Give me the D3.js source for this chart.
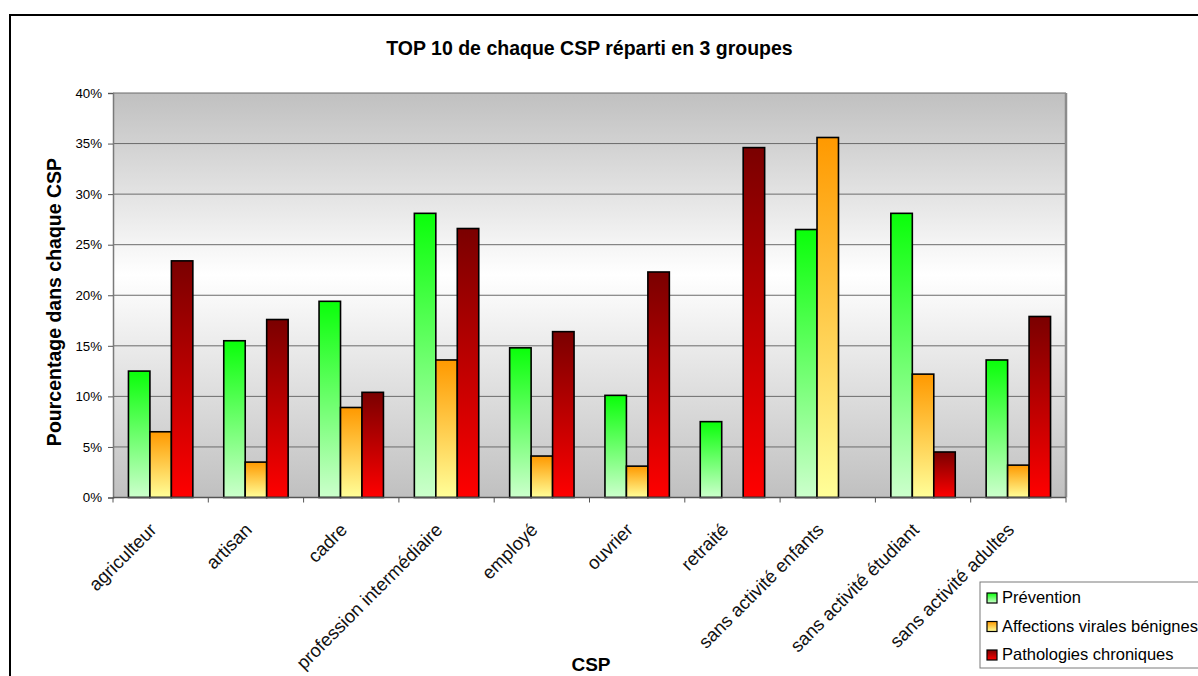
<!DOCTYPE html>
<html>
<head>
<meta charset="utf-8">
<script src="https://cdn.jsdelivr.net/npm/d3@7"></script>
<style>
  html, body { margin: 0; padding: 0; background: #ffffff; }
  svg { display: block; font-family: "Liberation Sans", Arial, sans-serif; }
</style>
</head>
<body>
<svg id="chart" width="1198" height="676"></svg>
<script>
// Catégories socio-professionnelles
const categories = [
  "agriculteur", "artisan", "cadre", "profession intermédiaire", "employé",
  "ouvrier", "retraité", "sans activité enfants", "sans activité étudiant",
  "sans activité adultes"
];

// Séries (en %)
const seriesNames = ["Prévention", "Affections virales bénignes", "Pathologies chroniques"];
const prevention  = [12.5, 15.5, 19.4, 28.1, 14.8, 10.1, 7.5, 26.5, 28.1, 13.6];
const affections  = [6.5, 3.5, 8.9, 13.6, 4.1, 3.1, 0, 35.6, 12.2, 3.2];
const pathologies = [23.4, 17.6, 10.4, 26.6, 16.4, 22.3, 34.6, 0, 4.5, 17.9];

const yTicks = [0, 5, 10, 15, 20, 25, 30, 35, 40];

const seriesValues = [prevention, affections, pathologies];
const gradIds = ["g-prev", "g-aff", "g-path"];
const gradStops = [
  ["#0aff0a", "#ccffcc"],
  ["#ff9900", "#ffff99"],
  ["#7a0000", "#ff0000"]
];

const svg = d3.select("#chart");
const defs = svg.append("defs");

// Dégradés verticaux des barres
gradIds.forEach((id, i) => {
  const g = defs.append("linearGradient").attr("id", id)
    .attr("x1", 0).attr("y1", 0).attr("x2", 0).attr("y2", 1);
  g.append("stop").attr("offset", "0%").attr("stop-color", gradStops[i][0]);
  g.append("stop").attr("offset", "100%").attr("stop-color", gradStops[i][1]);
});

// Fond de la zone de tracé
const bg = defs.append("linearGradient").attr("id", "g-bg")
  .attr("x1", 0).attr("y1", 0).attr("x2", 0).attr("y2", 1);
bg.append("stop").attr("offset", "0%").attr("stop-color", "#c0c0c0");
bg.append("stop").attr("offset", "45%").attr("stop-color", "#ffffff");
bg.append("stop").attr("offset", "100%").attr("stop-color", "#c0c0c0");

// Cadre extérieur
svg.append("rect")
  .attr("x", 10).attr("y", 15).attr("width", 1220).attr("height", 700)
  .attr("fill", "none").attr("stroke", "#000").attr("stroke-width", 2);

const plot = { left: 113, right: 1066, top: 93, bottom: 497.5 };

const x0 = d3.scaleBand().domain(categories)
  .range([plot.left, plot.right]).paddingInner(0).paddingOuter(0);
const x1 = d3.scaleBand().domain(d3.range(seriesNames.length))
  .range([0, x0.bandwidth()]).paddingInner(0).paddingOuter(0.72);
const y = d3.scaleLinear().domain([0, 40]).range([plot.bottom, plot.top]);

// Zone de tracé
svg.append("rect")
  .attr("x", plot.left).attr("y", plot.top)
  .attr("width", plot.right - plot.left).attr("height", plot.bottom - plot.top)
  .attr("fill", "url(#g-bg)");

// Quadrillage horizontal
svg.append("g").selectAll("line").data(yTicks.filter(t => t > 0)).join("line")
  .attr("x1", plot.left).attr("x2", plot.right)
  .attr("y1", d => y(d)).attr("y2", d => y(d))
  .attr("stroke", "#6b6b6b").attr("stroke-width", 1);

// Bordure droite de la zone de tracé
svg.append("line")
  .attr("x1", plot.right).attr("x2", plot.right)
  .attr("y1", plot.top).attr("y2", plot.bottom)
  .attr("stroke", "#8c8c8c").attr("stroke-width", 2.5);

// Barres
const groups = svg.append("g").selectAll("g").data(categories).join("g")
  .attr("transform", d => `translate(${x0(d)},0)`);

groups.selectAll("rect")
  .data((d, ci) => seriesValues.map((vals, si) => ({ si, v: vals[ci] })).filter(e => e.v > 0))
  .join("rect")
  .attr("x", d => x1(d.si))
  .attr("width", x1.bandwidth())
  .attr("y", d => y(d.v))
  .attr("height", d => y(0) - y(d.v))
  .attr("fill", d => `url(#${gradIds[d.si]})`)
  .attr("stroke", "#000").attr("stroke-width", 1.6);

// Axe Y
const yAxis = d3.axisLeft(y).tickValues(yTicks).tickFormat(d => d + "%").tickSize(5).tickPadding(6);
const gy = svg.append("g").attr("transform", `translate(${plot.left},0)`).call(yAxis);
gy.select(".domain").attr("stroke", "#7a7a7a").attr("stroke-width", 1.5);
gy.selectAll(".tick line").attr("stroke", "#555");
gy.selectAll("text").attr("font-size", 13.3).attr("fill", "#000")
  .attr("font-family", "Liberation Sans, Arial, sans-serif");

// Axe X
const xAxisLine = svg.append("g");
xAxisLine.append("line")
  .attr("x1", plot.left).attr("x2", plot.right)
  .attr("y1", plot.bottom).attr("y2", plot.bottom)
  .attr("stroke", "#555").attr("stroke-width", 1.5);
xAxisLine.selectAll(".xt").data(d3.range(categories.length + 1)).join("line")
  .attr("class", "xt")
  .attr("x1", i => plot.left + i * x0.step()).attr("x2", i => plot.left + i * x0.step())
  .attr("y1", plot.bottom).attr("y2", plot.bottom + 5)
  .attr("stroke", "#555").attr("stroke-width", 1);

svg.append("g").selectAll("text").data(categories).join("text")
  .attr("transform", d => `translate(${x0(d) + x0.bandwidth() / 2 - 3},531) rotate(-45)`)
  .attr("text-anchor", "end")
  .attr("font-size", 18.5)
  .attr("fill", "#111")
  .text(d => d);

// Titres
svg.append("text")
  .attr("x", (plot.left + plot.right) / 2).attr("y", 55)
  .attr("text-anchor", "middle").attr("font-weight", "bold").attr("font-size", 19.5)
  .text("TOP 10 de chaque CSP réparti en 3 groupes");

svg.append("text")
  .attr("transform", `translate(61,302) rotate(-90)`)
  .attr("text-anchor", "middle").attr("font-weight", "bold").attr("font-size", 19.5)
  .text("Pourcentage dans chaque CSP");

svg.append("text")
  .attr("x", 591).attr("y", 671)
  .attr("text-anchor", "middle").attr("font-weight", "bold").attr("font-size", 19)
  .text("CSP");

// Légende
const legend = svg.append("g");
legend.append("rect")
  .attr("x", 980).attr("y", 582).attr("width", 240).attr("height", 86)
  .attr("fill", "#fff").attr("stroke", "#7a7a7a").attr("stroke-width", 1);
const items = legend.selectAll(".item").data(seriesNames).join("g")
  .attr("class", "item")
  .attr("transform", (d, i) => `translate(987,${593 + i * 28.5})`);
items.append("rect")
  .attr("width", 10).attr("height", 10)
  .attr("fill", (d, i) => `url(#${gradIds[i]})`)
  .attr("stroke", "#000").attr("stroke-width", 1.2);
items.append("text")
  .attr("x", 15).attr("y", 10)
  .attr("font-size", 16.5).attr("fill", "#000")
  .text(d => d);
</script>
</body>
</html>
